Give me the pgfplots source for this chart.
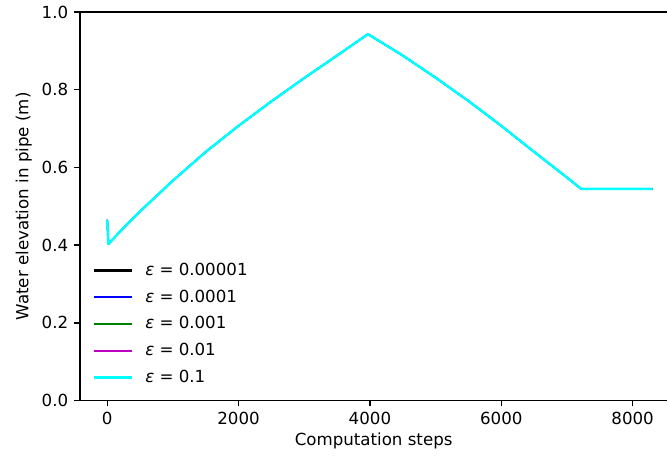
\documentclass[border=0pt]{standalone}
\usepackage{pgfplots}
\pgfplotsset{compat=1.18}
\usepackage{pgfplotstable}
\usepackage{fontspec}
\setmainfont{DejaVu Sans}

\definecolor{mplgreen}{rgb}{0,0.5,0}
\definecolor{mplmagenta}{rgb}{0.75,0,0.75}
\definecolor{mplcyan}{rgb}{0,1,1}

% Water level in the pipe against computation step
\pgfplotstableread{
step   h
0      0.465
20     0.403
250    0.445
500    0.487
1000   0.566
1500   0.640
2000   0.707
2500   0.770
3000   0.830
3500   0.888
3970   0.943
4500   0.888
5000   0.831
5500   0.771
6000   0.707
6500   0.640
7000   0.574
7215   0.545
8304   0.545
}\levels

\begin{document}
\begin{tikzpicture}
% page frame
\path (-48pt,-36pt) rectangle (352.8pt,240.6pt);
\begin{axis}[
  at={(0pt,0pt)}, anchor=south west,
  scale only axis,
  width=352.8pt, height=233.4pt,
  xmin=-415, xmax=8528,
  ymin=0, ymax=1,
  axis lines*=left,
  xtick={0,2000,4000,6000,8000},
  ytick={0,0.2,...,1.0},
  yticklabel style={/pgf/number format/.cd, fixed, fixed zerofill, precision=1},
  xticklabel style={/pgf/number format/.cd, fixed, 1000 sep={}},
  /pgf/number format/assume math mode=true,
  tick align=outside,
  major tick length=3.5pt,
  every tick/.style={black, line width=0.8pt},
  axis line style={line width=0.8pt},
  tick label style={font=\fontsize{10}{12}\selectfont},
  label style={font=\fontsize{10}{12}\selectfont},
  xlabel={Computation steps},
  ylabel={Water elevation in pipe (m)},
  xlabel style={yshift=2pt},
  ylabel style={yshift=-1pt},
  legend cell align=left,
  legend style={draw=none, fill=none, at={(axis cs:-300,0.022)}, anchor=south west,
    font=\fontsize{10}{12}\selectfont, row sep=3.2pt,
    /tikz/every odd column/.append style={column sep=5pt}},
  legend image code/.code={\draw[#1, line width=1.5pt] (0pt,0pt) -- (23pt,0pt);},
]
% the four smaller tolerances give the same trace and lie under the last one
\addplot[black, line width=0.9pt, line join=round] table[x=step, y=h] {\levels};
\addlegendentry{\textit{ε} = 0.00001}
\addplot[blue, line width=0.9pt, line join=round] table[x=step, y=h] {\levels};
\addlegendentry{\textit{ε} = 0.0001}
\addplot[mplgreen, line width=0.9pt, line join=round] table[x=step, y=h] {\levels};
\addlegendentry{\textit{ε} = 0.001}
\addplot[mplmagenta, line width=0.9pt, line join=round] table[x=step, y=h] {\levels};
\addlegendentry{\textit{ε} = 0.01}
\addplot[mplcyan, line width=1.5pt, line join=round] table[x=step, y=h] {\levels};
\addlegendentry{\textit{ε} = 0.1}
% upper frame edge
\draw[line width=0.8pt] (rel axis cs:0,1) -- (rel axis cs:1,1);
\end{axis}
\end{tikzpicture}
\end{document}
